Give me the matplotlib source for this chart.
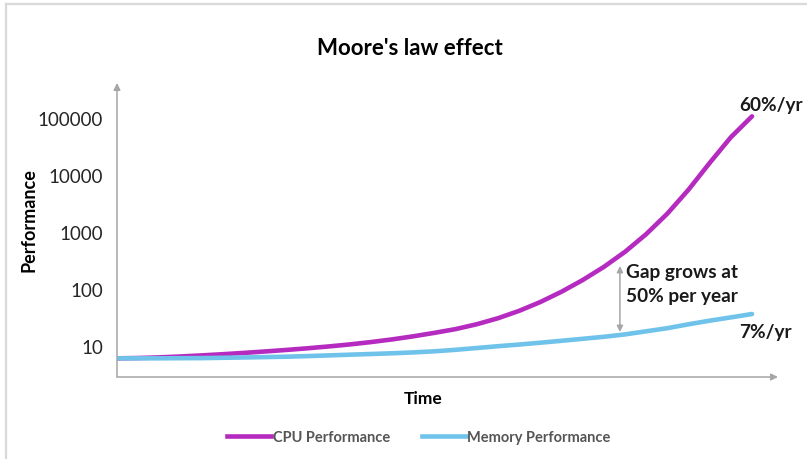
import matplotlib
matplotlib.use("Agg")
import matplotlib.pyplot as plt
from matplotlib.lines import Line2D

plt.rcParams['font.family'] = ['Lato', 'DejaVu Sans']

# years since start, values for each year
years = list(range(31))
cpu_perf = [6.08, 6.15, 6.31, 6.55, 6.84, 7.18, 7.57, 8.02, 8.53, 9.12,
            9.82, 10.66, 11.72, 13.06, 14.79, 17.02, 19.8, 24.1, 30.7, 41.4,
            59.1, 89.5, 143.5, 244, 449, 916, 2098, 5520, 16290, 45900, 107000]
mem_perf = [6.08, 6.08, 6.08, 6.11, 6.13, 6.21, 6.29, 6.39, 6.49, 6.65,
            6.84, 7.04, 7.24, 7.45, 7.72, 8.07, 8.58, 9.22, 9.92, 10.6,
            11.43, 12.34, 13.38, 14.5, 15.98, 18.11, 20.53, 24.03, 27.8, 31.76, 36.43]
y_ticks = [10, 100, 1000, 10000, 100000]
y_tick_labels = ['10', '100', '1000', '10000', '100000']

cpu_color = '#B52BC0'
mem_color = '#6FC3EA'
axis_color = '#A6A6A6'

fig = plt.figure(figsize=(8.07, 4.6), dpi=100)
ax = fig.add_axes([117 / 807, 1 - 378 / 460, (778 - 117) / 807, (378 - 84) / 460])

ax.plot(years, cpu_perf, color=cpu_color, lw=3.3, solid_capstyle='round',
        solid_joinstyle='round', label='CPU Performance')
ax.plot(years, mem_perf, color=mem_color, lw=3.3, solid_capstyle='round',
        solid_joinstyle='round', label='Memory Performance')

ax.set_yscale('log')
ax.set_xlim(0, 30 * 661 / 635)
ax.set_ylim(10 ** (1 - 31 / 57), 10 ** (1 + 263 / 57))
ax.set_yticks(y_ticks)
ax.set_yticklabels(y_tick_labels)
ax.minorticks_off()
ax.set_xticks([])
ax.tick_params(axis='y', length=0, pad=10, labelsize=13.5, colors='#262626')

for s in ax.spines.values():
    s.set_visible(False)
# axis lines with arrow heads
ax.annotate('', xy=(0, 1), xytext=(0, 0), xycoords='axes fraction',
            arrowprops=dict(arrowstyle='-|>', color=axis_color, lw=1.1, mutation_scale=10,
                            shrinkA=0, shrinkB=0))
ax.annotate('', xy=(1, 0), xytext=(0, 0), xycoords='axes fraction',
            arrowprops=dict(arrowstyle='-|>', color=axis_color, lw=1.1, mutation_scale=10,
                            shrinkA=0, shrinkB=0))

# gap arrow
ax.annotate('', xy=(23.76, 253), xytext=(23.76, 17.6),
            arrowprops=dict(arrowstyle='<|-|>', color='#A6A6A6', lw=1.1, mutation_scale=9,
                            shrinkA=0, shrinkB=0))
ax.text(24.05, 125, 'Gap grows at\n50% per year', fontsize=13.7, fontweight='bold',
        va='center', ha='left', linespacing=1.45, color='#1a1a1a')
ax.text(29.4, 176000, '60%/yr', fontsize=13.7, fontweight='bold', ha='left', va='center', color='#1a1a1a')
ax.text(29.4, 18.3, '7%/yr', fontsize=13.7, fontweight='bold', ha='left', va='center', color='#1a1a1a')

fig.text(410 / 807, 1 - 49 / 460, "Moore's law effect", fontsize=16, fontweight='bold',
         ha='center', va='center')
fig.text(29 / 807, 1 - 220 / 460, 'Performance', fontsize=13, fontweight='bold',
         rotation=90, ha='center', va='center')
fig.text(423 / 807, 1 - 399 / 460, 'Time', fontsize=12.5, fontweight='bold',
         ha='center', va='center')

handles = [Line2D([], [], color=cpu_color, lw=3.3), Line2D([], [], color=mem_color, lw=3.3)]
fig.legend(handles, ['CPU Performance', 'Memory Performance'], loc='center',
           bbox_to_anchor=(419 / 807, 1 - 438 / 460), ncol=2, frameon=False,
           handlelength=3.0, handletextpad=0.1, columnspacing=2.2,
           labelcolor='#555555', prop={'weight': 'bold', 'size': 10.5})

# chart frame (left and top edges visible)
fig.add_artist(Line2D([6.5 / 807, 6.5 / 807], [0, 1 - 4.5 / 460], color='#D9D9D9', lw=1.6,
                      transform=fig.transFigure))
fig.add_artist(Line2D([6.5 / 807, 1], [1 - 4.5 / 460, 1 - 4.5 / 460], color='#D9D9D9', lw=1.6,
                      transform=fig.transFigure))

fig.savefig('out.png', dpi=100)
